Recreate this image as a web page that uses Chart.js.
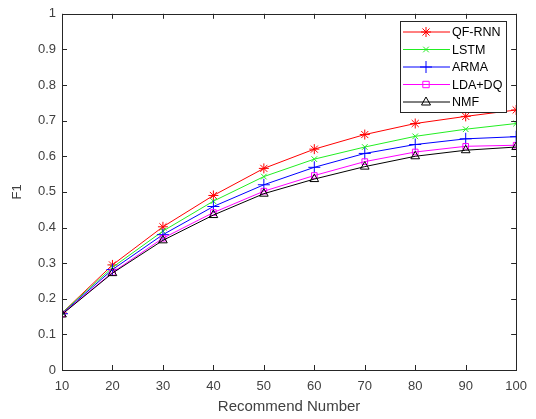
<!DOCTYPE html>
<html>
<head>
<meta charset="utf-8">
<script src="https://cdn.jsdelivr.net/npm/chart.js@4.4.0/dist/chart.umd.min.js"></script>
<style>
  html, body { margin: 0; padding: 0; background: #fff; }
  #wrap { width: 536px; height: 419px; }
</style>
</head>
<body>
<div id="wrap"><canvas id="f1chart" width="536" height="419"></canvas></div>
<script>
// recommend numbers on the x axis
const recNumbers = [10, 20, 30, 40, 50, 60, 70, 80, 90, 100];

// F1 values per method
const qfRnn = [0.16, 0.295, 0.402, 0.49, 0.566, 0.62, 0.661, 0.692, 0.712, 0.73];
const lstm  = [0.16, 0.288, 0.39, 0.474, 0.543, 0.592, 0.626, 0.656, 0.676, 0.692];
const arma  = [0.158, 0.282, 0.38, 0.459, 0.52, 0.569, 0.608, 0.633, 0.649, 0.655];
const ldaDq = [0.157, 0.274, 0.37, 0.442, 0.502, 0.546, 0.585, 0.612, 0.628, 0.631];
const nmf   = [0.156, 0.272, 0.364, 0.435, 0.495, 0.536, 0.571, 0.6, 0.617, 0.626];

const seriesNames = ['QF-RNN', 'LSTM', 'ARMA', 'LDA+DQ', 'NMF'];
const seriesColors = ['#ff0000', '#22ee22', '#0000ff', '#ff00ff', '#000000'];
const seriesMarkers = ['star', 'crossRot', 'cross', 'rect', 'triangle'];
const markerSizes = [5, 4, 6, 4, 5];

const xTicks = [10, 20, 30, 40, 50, 60, 70, 80, 90, 100];
const yTicks = [0, 0.1, 0.2, 0.3, 0.4, 0.5, 0.6, 0.7, 0.8, 0.9, 1];

const allSeries = [qfRnn, lstm, arma, ldaDq, nmf];

const datasets = allSeries.map((vals, i) => ({
  label: seriesNames[i],
  data: vals.map((v, j) => ({ x: recNumbers[j], y: v })),
  borderColor: seriesColors[i],
  backgroundColor: seriesColors[i],
  pointBorderColor: seriesColors[i],
  pointBackgroundColor: 'rgba(0,0,0,0)',
  pointStyle: seriesMarkers[i],
  pointRadius: markerSizes[i],
  pointBorderWidth: 1,
  borderWidth: 1,
  tension: 0,
  order: 5 - i,
}));

const axisColor = '#262626';
const fontFam = '"Liberation Sans", Arial, sans-serif';

// MATLAB-like box with inward ticks plus the legend
const boxPlugin = {
  id: 'boxPlugin',
  afterDatasetsDraw(chart) {
    const ctx = chart.ctx;
    const a = chart.chartArea;
    const xs = chart.scales.x;
    const ys = chart.scales.y;
    ctx.save();
    ctx.strokeStyle = axisColor;
    ctx.lineWidth = 1;
    ctx.strokeRect(Math.round(a.left) + 0.5, Math.round(a.top) + 0.5,
      Math.round(a.right - a.left), Math.round(a.bottom - a.top));
    ctx.beginPath();
    xTicks.forEach((t) => {
      const px = Math.round(xs.getPixelForValue(t)) + 0.5;
      ctx.moveTo(px, a.bottom); ctx.lineTo(px, a.bottom - 5);
      ctx.moveTo(px, a.top); ctx.lineTo(px, a.top + 5);
    });
    yTicks.forEach((t) => {
      const py = Math.round(ys.getPixelForValue(t)) + 0.5;
      ctx.moveTo(a.left, py); ctx.lineTo(a.left + 5, py);
      ctx.moveTo(a.right, py); ctx.lineTo(a.right - 5, py);
    });
    ctx.stroke();

    // legend
    const lx = 400, ly = 21, lw = 106, lh = 91;
    ctx.fillStyle = '#fff';
    ctx.fillRect(lx, ly, lw, lh);
    ctx.strokeStyle = axisColor;
    ctx.strokeRect(lx + 0.5, ly + 0.5, lw, lh);
    ctx.font = '12.5px ' + fontFam;
    ctx.textBaseline = 'middle';
    seriesNames.forEach((name, i) => {
      const y = ly + 11 + i * 17.5;
      ctx.strokeStyle = seriesColors[i];
      ctx.beginPath();
      ctx.moveTo(lx + 3, y); ctx.lineTo(lx + 50, y);
      ctx.stroke();
      drawMarker(ctx, seriesMarkers[i], lx + 26, y, markerSizes[i], seriesColors[i]);
      ctx.fillStyle = '#000';
      ctx.fillText(name, lx + 52, y + 1);
    });
    ctx.restore();
  }
};

function drawMarker(ctx, style, x, y, r, color) {
  ctx.save();
  ctx.strokeStyle = color;
  ctx.lineWidth = 1;
  ctx.beginPath();
  if (style === 'star' || style === 'cross') {
    ctx.moveTo(x - r, y); ctx.lineTo(x + r, y);
    ctx.moveTo(x, y - r); ctx.lineTo(x, y + r);
  }
  if (style === 'star' || style === 'crossRot') {
    const d = r * 0.707;
    ctx.moveTo(x - d, y - d); ctx.lineTo(x + d, y + d);
    ctx.moveTo(x - d, y + d); ctx.lineTo(x + d, y - d);
  }
  if (style === 'rect') {
    const d = r * 0.8;
    ctx.rect(x - d, y - d, 2 * d, 2 * d);
  }
  if (style === 'triangle') {
    ctx.moveTo(x, y - r);
    ctx.lineTo(x + r * 0.9, y + r * 0.6);
    ctx.lineTo(x - r * 0.9, y + r * 0.6);
    ctx.closePath();
  }
  ctx.stroke();
  ctx.restore();
}

new Chart(document.getElementById('f1chart'), {
  type: 'line',
  data: { datasets },
  plugins: [boxPlugin],
  options: {
    responsive: false,
    animation: false,
    layout: { padding: { left: 0, top: 8, right: 17, bottom: 0 } },
    plugins: {
      legend: { display: false },
      tooltip: { enabled: false },
    },
    scales: {
      x: {
        type: 'linear',
        min: 10,
        max: 100,
        afterBuildTicks: (scale) => { scale.ticks = xTicks.map((v) => ({ value: v })); },
        afterFit: (scale) => { scale.height = 49; },
        grid: { display: false, drawTicks: false },
        border: { display: false },
        ticks: {
          color: '#404040',
          padding: 9,
          font: { family: fontFam, size: 13 },
          maxRotation: 0,
        },
        title: {
          display: true,
          text: 'Recommend Number',
          color: '#404040',
          padding: { top: 0, bottom: 3 },
          font: { family: fontFam, size: 15 },
        },
      },
      y: {
        min: 0,
        max: 1,
        afterBuildTicks: (scale) => { scale.ticks = yTicks.map((v) => ({ value: v })); },
        afterFit: (scale) => { scale.width = 62; },
        grid: { display: false, drawTicks: false },
        border: { display: false },
        ticks: {
          color: '#404040',
          padding: 6,
          font: { family: fontFam, size: 13 },
          callback: (v) => String(Math.round(v * 10) / 10),
        },
        title: {
          display: true,
          text: 'F1',
          color: '#404040',
          padding: { top: 10, bottom: 0 },
          font: { family: fontFam, size: 13 },
        },
      },
    },
  },
});
</script>
</body>
</html>
